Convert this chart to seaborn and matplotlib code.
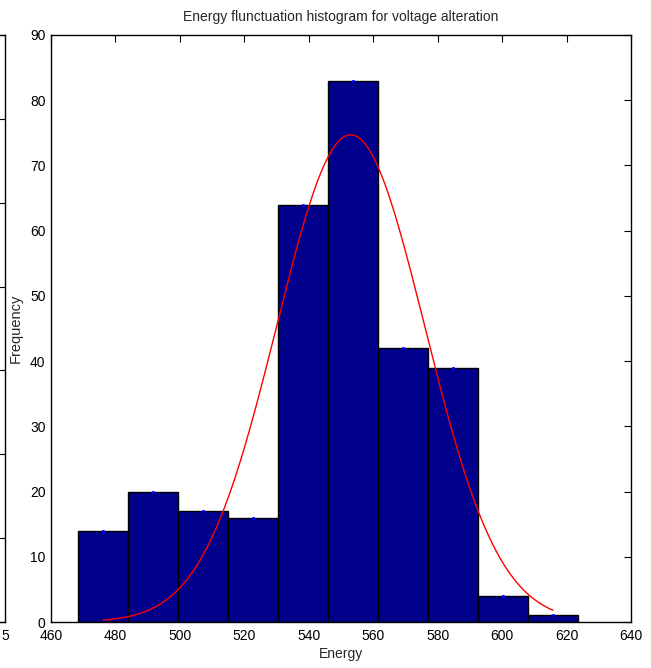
import numpy as np
import pandas as pd
import matplotlib
matplotlib.use("Agg")
import matplotlib.pyplot as plt
import seaborn as sns

# ---- data ----
bin_edges = [468.4, 483.9, 499.4, 515.0, 530.5, 546.0, 561.5, 577.0, 592.6, 608.1, 623.6]
bin_centers = [476.2, 491.7, 507.2, 522.7, 538.2, 553.8, 569.3, 584.8, 600.3, 615.8]
counts = [14, 20, 17, 16, 64, 83, 42, 39, 4, 1]
# fitted normal curve (histfit) parameters
fit_mean = 553.0
fit_sigma = 23.0
fit_peak = 74.7

x_ticks = [460, 480, 500, 520, 540, 560, 580, 600, 620, 640]
y_ticks = [0, 10, 20, 30, 40, 50, 60, 70, 80, 90]

title = "Energy flunctuation histogram for voltage alteration"
xlabel = "Energy"
ylabel = "Frequency"

sns.set_style("white")
plt.rcParams["font.family"] = ["Liberation Sans Narrow", "Liberation Sans", "DejaVu Sans"]
plt.rcParams["axes.edgecolor"] = "black"
plt.rcParams["axes.linewidth"] = 1.0

W, H = 651, 668
fig = plt.figure(figsize=(W / 100, H / 100), dpi=100)
fig.patch.set_facecolor("white")

# main axes
ax = fig.add_axes([51 / W, 46 / H, 580 / W, 587 / H])
df = pd.DataFrame({"x": bin_centers, "w": counts})
sns.histplot(data=df, x="x", weights="w", bins=bin_edges, color="#00008A",
             edgecolor="black", linewidth=1.0, alpha=1.0, ax=ax)

sns.scatterplot(x=bin_centers, y=counts, color="#0000FF", marker="o", s=5,
                linewidth=0, ax=ax, zorder=5)

xs = np.linspace(bin_centers[0], bin_centers[-1], 300)
ys = fit_peak * np.exp(-0.5 * ((xs - fit_mean) / fit_sigma) ** 2)
sns.lineplot(x=xs, y=ys, color="red", linewidth=1.0, ax=ax, zorder=6)

ax.set_xlim(460, 640)
ax.set_ylim(0, 90)
ax.set_xticks(x_ticks)
ax.set_yticks(y_ticks)
ax.tick_params(direction="in", length=5, width=0.8, top=True, right=True,
               labelsize=10, colors="black")
ax.tick_params(axis="x", pad=5)
ax.tick_params(axis="y", pad=4)
for s in ax.spines.values():
    s.set_visible(True)
    s.set_color("black")
    s.set_linewidth(1.0)
ax.set_title(title, fontsize=10, pad=10)
ax.set_xlabel(xlabel, fontsize=10, labelpad=3)
ax.set_ylabel(ylabel, fontsize=10.5, labelpad=5, family=["Liberation Sans", "DejaVu Sans"])
ax.grid(False)

# cut-off neighbouring axes at the left edge
ax2 = fig.add_axes([-0.3, 46 / H, 0.3 + 5 / W, 587 / H])
ax2.set_xlim(0, 1)
ax2.set_ylim(0, 7)
ax2.set_xticks([1])
ax2.set_xticklabels(["5"])
ax2.set_yticks(range(8))
ax2.set_yticklabels([])
ax2.tick_params(direction="in", length=5, width=0.8, left=False, right=True,
                labelleft=False, labelsize=10, pad=5, colors="black")
for s in ax2.spines.values():
    s.set_visible(True)
    s.set_color("black")
    s.set_linewidth(1.0)
ax2.set_facecolor("white")

fig.savefig("out.png", dpi=100, facecolor="white")
